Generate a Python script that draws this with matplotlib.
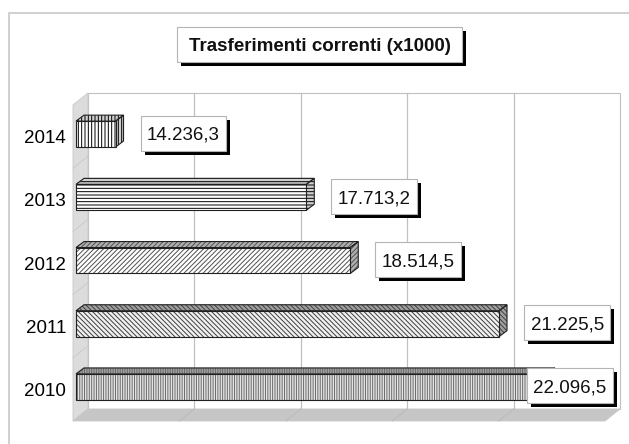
import matplotlib
matplotlib.use("Agg")
import matplotlib.pyplot as plt
import matplotlib.transforms as mtransforms
from matplotlib.patches import Polygon, Rectangle
import numpy as np

plt.rcParams['font.family'] = ['Liberation Sans', 'DejaVu Sans']
plt.rcParams['hatch.linewidth'] = 0.7

years = ['2010', '2011', '2012', '2013', '2014']
values = [22096.5, 21225.5, 18514.5, 17713.2, 14236.3]
labels = ['22.096,5', '21.225,5', '18.514,5', '17.713,2', '14.236,3']
title = 'Trasferimenti correnti (x1000)'

# fill pattern per bar: hatch, background, hatch colour, top/side background
hatches = ['|||||||', '\\\\\\\\\\\\\\', '///////', '-----', '|||||']
bg = ['#e4e4e4', '#f0f0f0', 'white', 'white', 'white']
hcol = ['#6a6a6a', '#404040', '#505050', 'black', 'black']
side_bg = ['#a0a0a0', '#a0a0a0', '#b0b0b0', '#d0d0d0', '#d0d0d0']

x_lo, x_hi = 13516, 23212
W, H = 629, 444

WALL = (15, 12)        # depth of the box, pixels
BAR_FRONT = (3, 2.5)
BAR_BACK = (11, 8.5)
bar_h = 0.41
FS = 13.5
PX = 100 / 72

fig = plt.figure(figsize=(W / 100, H / 100), dpi=100)
fig.patch.set_facecolor('white')
ax = fig.add_axes([73 / W, 1 - 421 / H, (605 - 73) / W, (421 - 105) / H])
ax.set_xlim(x_lo, x_hi)
ax.set_ylim(-0.5, 4.5)
ax.set_xticks([])
ax.set_yticks(range(len(years)), years, fontsize=FS)
ax.tick_params(axis='y', length=0, pad=5)
for s in ax.spines.values():
    s.set_visible(False)
ax.patch.set_visible(False)
ident = mtransforms.IdentityTransform()
renderer = fig.canvas.get_renderer()


def shifted(x, y, d):
    p = ax.transData.transform(np.column_stack([np.atleast_1d(x), np.atleast_1d(y)]))
    p = p + np.array(d)
    return ax.transData.inverted().transform(p)


def poly(pts, **kw):
    ax.add_patch(Polygon(pts, closed=True, clip_on=False, **kw))


def boxed(x0, yc, s, w=None, h=35, padx=6.5, weight='normal', right_limit=None):
    """Text in a white box with a black drop shadow; x0 is the box's left edge."""
    t = fig.text(0, 0, s, fontsize=FS, fontweight=weight, transform=ident)
    tw = t.get_window_extent(renderer).width
    t.remove()
    if w is None:
        w = tw + 2 * padx
    if right_limit is not None:
        x0 = min(x0, right_limit - w)
    fig.patches.append(Rectangle((x0 + 4, yc - h / 2 - 4), w, h, transform=ident,
                                 facecolor='black', edgecolor='none', zorder=5))
    fig.patches.append(Rectangle((x0, yc - h / 2), w, h, transform=ident,
                                 facecolor='white', edgecolor='#b4b4b4', lw=0.8, zorder=6))
    fig.text(x0 + w / 2, yc - 0.716 * FS * PX / 2, s, fontsize=FS, fontweight=weight,
             ha='center', va='baseline', color='#111111', transform=ident, zorder=7)


# walls and floor
y0, y1 = -0.5, 4.5
back = shifted([x_lo, x_hi, x_hi, x_lo], [y0, y0, y1, y1], WALL)
poly(back, facecolor='white', edgecolor='#c0c0c0', lw=0.8, zorder=0)
side = np.vstack([shifted([x_lo, x_lo], [y0, y1], (0, 0)),
                  shifted([x_lo, x_lo], [y1, y0], WALL)])
poly(side, facecolor='#dcdcdc', edgecolor='#c8c8c8', lw=0.6, zorder=0)
floor = np.vstack([shifted([x_lo, x_hi], [y0, y0], (0, 0)),
                   shifted([x_hi, x_lo], [y0, y0], WALL)])
poly(floor, facecolor='#c6c6c6', edgecolor='#c6c6c6', lw=0.6, zorder=0)

grid = np.linspace(x_lo, x_hi, 6)[1:-1]
for g in grid:
    top = shifted(g, y1, WALL)[0]
    bot = shifted(g, y0, WALL)[0]
    front = shifted(g, y0, (0, 0))[0]
    ax.plot([top[0], bot[0]], [top[1], bot[1]], color='#c0c0c0', lw=0.9, zorder=0.5, clip_on=False)
    ax.plot([bot[0], front[0]], [bot[1], front[1]], color='#b8b8b8', lw=0.6, zorder=0.5, clip_on=False)
for k in np.arange(0.5, 4.5, 1.0):
    a = shifted(x_lo, k, (0, 0))[0]
    b = shifted(x_lo, k, WALL)[0]
    ax.plot([a[0], b[0]], [a[1], b[1]], color='#c8c8c8', lw=0.6, zorder=0.5, clip_on=False)


def face(pts, hatch, fc, hc, z):
    poly(pts, facecolor=fc, edgecolor=hc, hatch=hatch, lw=0, zorder=z)
    poly(pts, fill=False, edgecolor='#202020', lw=0.8, zorder=z + 0.01)


for i, v in enumerate(values):
    yb, yt = i - bar_h / 2, i + bar_h / 2
    ftl, ftr = shifted([x_lo, v], [yt, yt], BAR_FRONT)
    fbl, fbr = shifted([x_lo, v], [yb, yb], BAR_FRONT)
    btl, btr = shifted([x_lo, v], [yt, yt], BAR_BACK)
    bbr = shifted(v, yb, BAR_BACK)[0]
    z = 2 + 0.1 * (len(values) - i)
    face([ftl, ftr, btr, btl], hatches[i], side_bg[i], hcol[i], z)
    face([fbr, bbr, btr, ftr], hatches[i], side_bg[i], hcol[i], z)
    face([fbl, fbr, ftr, ftl], hatches[i], bg[i], hcol[i], z + 0.05)

    # value label next to the bar end, kept inside the chart
    end_px, yc = ax.transData.transform((v, i))
    boxed(end_px + BAR_BACK[0] + 17, yc + BAR_FRONT[1] + 1, labels[i], right_limit=613)

# title box
boxed(177, H - 44.5, title, w=285, weight='bold')

# chart area border, running off the right and bottom edges
fig.patches.append(Rectangle((9 / W, -0.1), 1.2, 1 - 13 / H + 0.1, transform=fig.transFigure,
                             fill=False, edgecolor='#c8c8c8', lw=1.2, zorder=0))

fig.savefig('out.png', dpi=100, facecolor='white')
